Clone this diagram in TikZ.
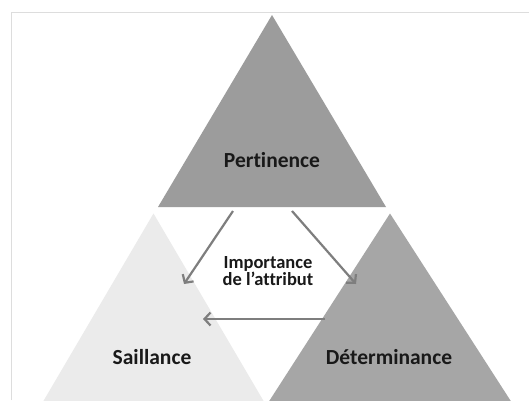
\documentclass[tikz,border=0pt]{standalone}
\usepackage{fontspec}
\setmainfont{Carlito}[Ligatures={NoCommon}]
\usepackage{xcolor}
\usepackage{tikz}
\usetikzlibrary{arrows.meta}

\definecolor{topgray}{HTML}{9C9C9C}
\definecolor{leftgray}{HTML}{EBEBEB}
\definecolor{rightgray}{HTML}{A6A6A6}
\definecolor{arrowgray}{HTML}{7E7E7E}
\definecolor{framegray}{HTML}{DDDDDD}

\begin{document}
\begin{tikzpicture}[x=1pt, y=-1pt,
    title/.style={font=\bfseries\fontsize{21.5}{24}\selectfont, text=black!90},
    small/.style={font=\bfseries\fontsize{18.5}{17}\selectfont, text=black!90, align=center},
    flow/.style={draw=arrowgray, line width=2.2pt, -{Straight Barb[length=6pt, width=13pt]}}]

    \useasboundingbox (0,0) rectangle (529,400);
    \fill [white] (0,0) rectangle (529,400);

    \begin{scope}
    \clip (0,0) rectangle (529,400);
    \draw [framegray, line width=1pt] (11.7,400) -- (11.7,12.7) -- (529,12.7);
    % the three triangles
    \fill [topgray] (158,207) -- (272,15) -- (386,207) -- cycle;
    \fill [leftgray] (40.5,406) -- (153.5,213.5) -- (266.5,406) -- cycle;
    \fill [rightgray] (266,406) -- (390,213.5) -- (514,406) -- cycle;
    \end{scope}

    \node [title] (pert) at (272,160) {Pertinence};
    \node [title] (sail) at (152,357) {Saillance};
    \node [title] (det) at (389,357) {Déterminance};
    \node [small] (imp) at (268,271) {Importance\\de l’attribut};

    \coordinate (pert-left) at (233,211);
    \coordinate (pert-right) at (292,211);
    \coordinate (sail-top) at (184,284);
    \coordinate (sail-side) at (203,319);
    \coordinate (det-top) at (356,284);
    \coordinate (det-side) at (325,319);

    \draw [flow] (pert-left) -- (sail-top);
    \draw [flow] (pert-right) -- (det-top);
    \draw [flow] (det-side) -- (sail-side);
\end{tikzpicture}
\end{document}
